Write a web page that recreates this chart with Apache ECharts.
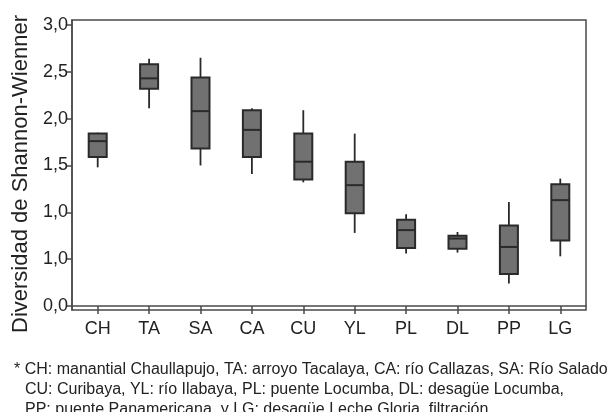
<!DOCTYPE html>
<html>
<head>
<meta charset="utf-8">
<script src="https://cdn.jsdelivr.net/npm/echarts@6/dist/echarts.min.js"></script>
<style>html,body{margin:0;padding:0;background:#fff;}#c{width:609px;height:412px;}</style>
</head>
<body>
<div id="c"></div>
<script>
// Data
const categories = ['CH','TA','SA','CA','CU','YL','PL','DL','PP','LG'];
// whisker min, Q1, median, Q3, whisker max
const boxMin    = [1.48, 2.11, 1.50, 1.41, 1.32, 0.78, 0.56, 0.57, 0.24, 0.53];
const boxQ1     = [1.59, 2.32, 1.68, 1.59, 1.35, 0.99, 0.62, 0.61, 0.34, 0.70];
const boxMedian = [1.76, 2.43, 2.08, 1.88, 1.54, 1.29, 0.81, 0.72, 0.63, 1.13];
const boxQ3     = [1.84, 2.58, 2.44, 2.09, 1.84, 1.54, 0.92, 0.75, 0.86, 1.30];
const boxMax    = [1.85, 2.64, 2.65, 2.11, 2.09, 1.84, 0.98, 0.79, 1.11, 1.36];
const tickValues = [0, 0.5, 1, 1.5, 2, 2.5, 3];
const tickLabels = ['0,0', '1,0', '1,0', '1,5', '2,0', '2,5', '3,0'];
const yTitle = 'Diversidad de Shannon-Wienner';
const footLine1 = '* CH: manantial Chaullapujo, TA: arroyo Tacalaya, CA: río Callazas, SA: Río Salado';
const footLines2 = 'CU: Curibaya, YL: río Ilabaya, PL: puente Locumba, DL: desagüe Locumba,\nPP: puente Panamericana  y LG: desagüe Leche Gloria, filtración';

const boxData = categories.map((c, i) => [i, boxMin[i], boxQ1[i], boxMedian[i], boxQ3[i], boxMax[i]]);

const BOX_W = 18;
const FILL = '#717171', EDGE = '#2a2a2a';

function renderBox(params, api) {
  const x = api.value(0);
  const pMin = api.coord([x, api.value(1)]);
  const pQ1 = api.coord([x, api.value(2)]);
  const pMed = api.coord([x, api.value(3)]);
  const pQ3 = api.coord([x, api.value(4)]);
  const pMax = api.coord([x, api.value(5)]);
  const cx = pMed[0];
  const lineStyle = {stroke: EDGE, lineWidth: 1.8};
  return {
    type: 'group',
    children: [
      {type: 'line', shape: {x1: cx, y1: pMin[1], x2: cx, y2: pQ1[1]}, style: lineStyle},
      {type: 'line', shape: {x1: cx, y1: pQ3[1], x2: cx, y2: pMax[1]}, style: lineStyle},
      {type: 'rect', shape: {x: cx - BOX_W / 2, y: pQ3[1], width: BOX_W, height: pQ1[1] - pQ3[1]},
        style: {fill: FILL, stroke: EDGE, lineWidth: 2}},
      {type: 'line', shape: {x1: cx - BOX_W / 2, y1: pMed[1], x2: cx + BOX_W / 2, y2: pMed[1]}, style: {stroke: EDGE, lineWidth: 2}}
    ]
  };
}

const chart = echarts.init(document.getElementById('c'), null, {renderer: 'canvas'});
const font = 'Liberation Sans, Arial, sans-serif';
chart.setOption({
  animation: false,
  backgroundColor: '#ffffff',
  title: [
    {text: footLine1, left: 9, top: 355, textStyle: {fontFamily: font, fontSize: 16, fontWeight: 'normal', color: '#222', lineHeight: 20}},
    {text: footLines2, left: 20, top: 375, textStyle: {fontFamily: font, fontSize: 16, fontWeight: 'normal', color: '#222', lineHeight: 20}}
  ],
  grid: {left: 72, right: 23, top: 20, bottom: 102, show: true, borderColor: '#4a4a4a', borderWidth: 1.5, backgroundColor: 'transparent'},
  xAxis: {
    type: 'category',
    data: categories,
    boundaryGap: true,
    axisLine: {show: true, lineStyle: {color: '#4a4a4a', width: 1.5}},
    axisTick: {show: true, alignWithLabel: true, length: 8, lineStyle: {color: '#4a4a4a', width: 1.5}},
    axisLabel: {fontFamily: font, fontSize: 18, color: '#222', margin: 10},
    splitLine: {show: false}
  },
  yAxis: {
    type: 'value',
    min: -0.043,
    max: 3.053,
    name: yTitle,
    nameLocation: 'middle',
    nameGap: 38,
    nameTextStyle: {fontFamily: font, fontSize: 22, color: '#222', padding: [0, 18, 0, 0]},
    axisLine: {show: true, lineStyle: {color: '#4a4a4a', width: 1.5}},
    axisTick: {show: true, length: 6, customValues: tickValues, lineStyle: {color: '#4a4a4a', width: 1.5}},
    axisLabel: {
      fontFamily: font, fontSize: 18, color: '#222', margin: 4,
      customValues: tickValues,
      formatter: function (v) { const i = tickValues.findIndex(t => Math.abs(t - v) < 1e-6); return i >= 0 ? tickLabels[i] : ''; }
    },
    splitLine: {show: false}
  },
  series: [{
    type: 'custom',
    renderItem: renderBox,
    data: boxData,
    encode: {x: 0, y: [1, 2, 3, 4, 5]},
    silent: true
  }]
});
</script>
</body>
</html>
